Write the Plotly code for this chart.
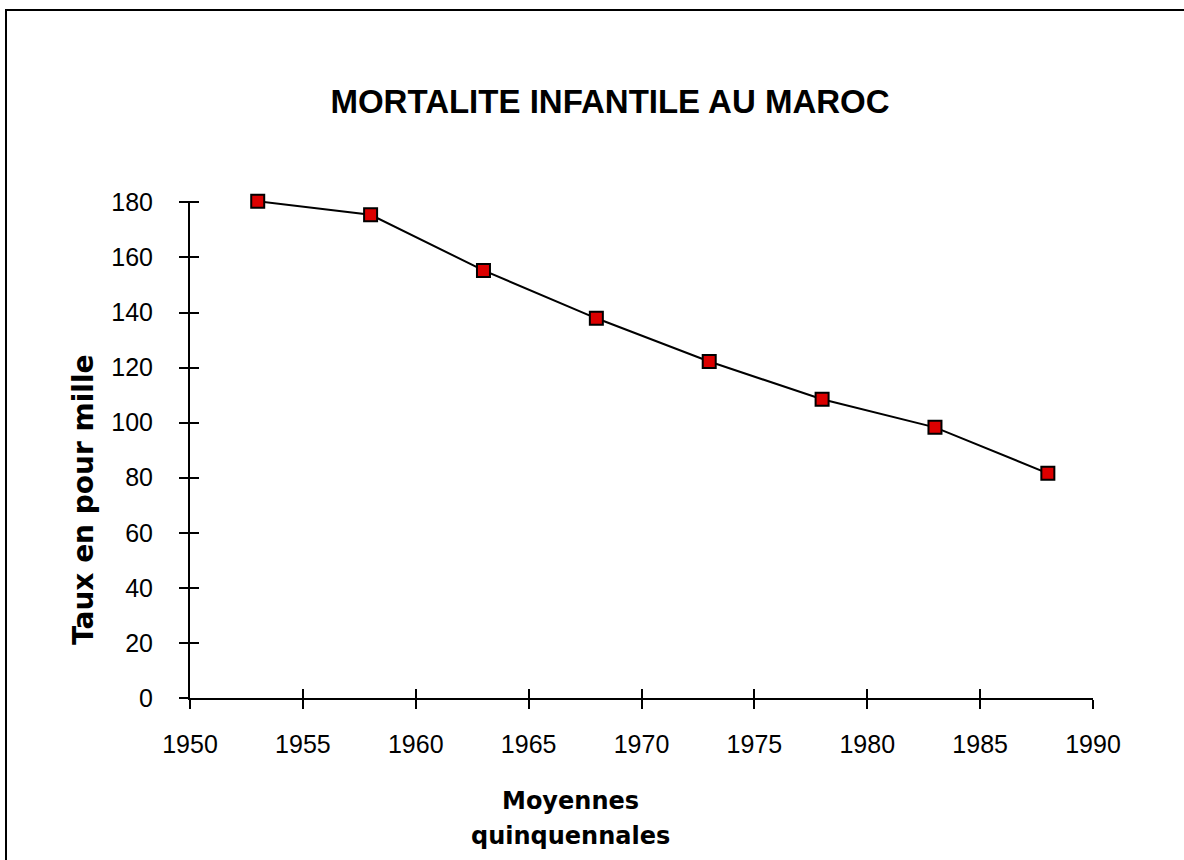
import plotly.graph_objects as go

# Data
years = [1953, 1958, 1963, 1968, 1973, 1978, 1983, 1988]
rates = [180.4, 175.5, 155.3, 137.9, 122.2, 108.5, 98.3, 81.6]
x_ticks = [1950, 1955, 1960, 1965, 1970, 1975, 1980, 1985, 1990]
y_ticks = [0, 20, 40, 60, 80, 100, 120, 140, 160, 180]
title_text = "MORTALITE INFANTILE AU MAROC"
y_title = "Taux en pour mille"
x_title_lines = ["Moyennes", "quinquennales"]

W, H = 1184, 860
L, R, T, B = 190, 91, 201, 162
pw, ph = W - L - R, H - T - B

def px(xp):
    return (xp - L) / pw

def py(yp):
    return (H - B - yp) / ph

fig = go.Figure()
fig.add_trace(go.Scatter(
    x=years, y=rates, mode="lines+markers", cliponaxis=False,
    line=dict(color="black", width=2),
    marker=dict(symbol="square", size=13, color="#DC0000",
                line=dict(color="black", width=2)),
    showlegend=False, hoverinfo="x+y"))
# companion (empty) trace for the inner-tick overlay axes
fig.add_trace(go.Scatter(x=years, y=rates, xaxis="x2", yaxis="y2",
                         mode="none", showlegend=False, hoverinfo="skip"))

tickfont = dict(family="Liberation Sans, Arial, sans-serif", size=25, color="black")
common_x = dict(range=[1950, 1990], tickvals=x_ticks, showgrid=False, zeroline=False)
common_y = dict(range=[0, 180.5], tickvals=y_ticks, showgrid=False, zeroline=False)

xt_font = dict(family="DejaVu Sans, sans-serif", size=24, color="black", weight="bold")

fig.update_layout(
    width=W, height=H,
    margin=dict(l=L, r=R, t=T, b=B),
    paper_bgcolor="white", plot_bgcolor="white",
    title=dict(text=title_text, x=610 / W, xref="container", xanchor="center",
               y=1 - 101 / H, yref="container", yanchor="middle",
               font=dict(family="Liberation Sans, Arial, sans-serif", size=33,
                         color="black", weight="bold")),
    xaxis=dict(**common_x, showline=True, linecolor="black", linewidth=2,
               ticks="outside", ticklen=9, tickwidth=2, tickcolor="black",
               tickfont=tickfont, ticklabelstandoff=14),
    yaxis=dict(**common_y, showline=True, linecolor="black", linewidth=2,
               ticks="outside", ticklen=9, tickwidth=2, tickcolor="black",
               tickfont=tickfont, ticklabelstandoff=21),
    xaxis2=dict(**common_x, overlaying="x", anchor="y2", showline=False,
                ticks="inside", ticklen=9, tickwidth=2, tickcolor="black",
                showticklabels=False),
    yaxis2=dict(**common_y, overlaying="y", anchor="x2", showline=False,
                ticks="inside", ticklen=9, tickwidth=2, tickcolor="black",
                showticklabels=False),
    annotations=[
        dict(text=y_title, textangle=-90, xref="paper", yref="paper",
             x=px(83), y=py(500), xanchor="center", yanchor="middle",
             showarrow=False,
             font=dict(family="DejaVu Sans, sans-serif", size=28,
                       color="black", weight="bold")),
        dict(text=x_title_lines[0], xref="paper", yref="paper",
             x=px(570), y=py(801), xanchor="center", yanchor="middle",
             showarrow=False, font=xt_font),
        dict(text=x_title_lines[1], xref="paper", yref="paper",
             x=px(570), y=py(836), xanchor="center", yanchor="middle",
             showarrow=False, font=xt_font),
    ],
    shapes=[dict(type="rect", xref="paper", yref="paper",
                 x0=px(6), x1=px(1200), y0=py(880), y1=py(10),
                 line=dict(color="black", width=2), fillcolor="rgba(0,0,0,0)",
                 layer="below")],
)

fig.write_html("out.html", config={"displayModeBar": False},
               post_script="document.body.style.margin='0';document.body.style.overflow='hidden';")
